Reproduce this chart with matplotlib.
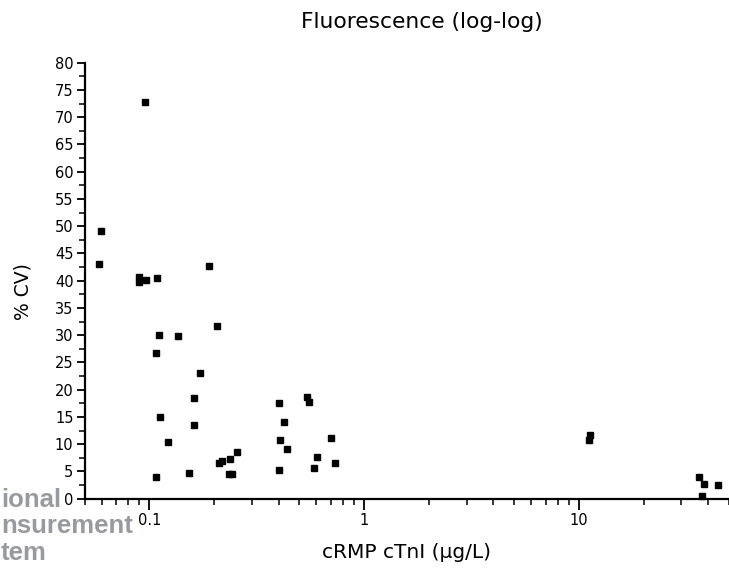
import numpy as np
import matplotlib.pyplot as plt
from matplotlib.ticker import LogLocator, MultipleLocator, FixedLocator, FixedFormatter, NullFormatter

#Donnees
conc=[0.0952,0.0598,0.0582,0.0895,0.0895,0.0966,0.1086,0.190,
      0.111,0.1355,0.206,0.1074,0.173,0.1614,0.1125,0.161,0.122,0.1074,
      0.153,0.212,0.217,0.237,0.235,0.243,0.255,0.400,0.408,0.426,0.436,
      0.400,0.541,0.557,0.601,0.583,0.705,0.731,
      11.3,11.2,36.2,38.3,37.5,44.5]
cv=[72.7,49.1,43.1,40.7,39.8,40.1,40.5,42.7,
    30.0,29.8,31.7,26.7,23.0,18.4,14.9,13.5,10.4,4.0,
    4.7,6.6,7.0,7.3,4.5,4.6,8.5,17.6,10.8,14.0,9.2,
    5.3,18.7,17.8,7.65,5.6,11.2,6.55,
    11.6,10.8,3.9,2.7,0.55,2.45]
xticks_pos=[0.1,1,10]
xticks_lab=['0.1','1','10']
# morceaux visibles du filigrane
watermark=['ional','nsurement','tem']

plt.rcParams['font.family']='DejaVu Sans'

fig=plt.figure(figsize=(7.29,5.70),dpi=100)

#Filigrane en bas a gauche
for txt,yb in zip(watermark,[63.3,37,10]):
    fig.text(1/729,yb/570,txt,fontsize=18.5,fontweight='bold',color='#979b9f',
             family='Liberation Sans',ha='left',va='baseline',zorder=0)

ax=fig.add_axes([84.6/729,71.3/570,1-84.6/729,436/570])
ax.patch.set_alpha(0)
ax.plot(conc,cv,'s',color='black',markersize=5,clip_on=False,zorder=3)

ax.set_xscale('log')
ax.set_xlim(0.05,50)
ax.set_ylim(0,80)

ax.xaxis.set_major_locator(FixedLocator(xticks_pos))
ax.xaxis.set_major_formatter(FixedFormatter(xticks_lab))
ax.xaxis.set_minor_locator(LogLocator(base=10,subs=np.arange(2,10)))
ax.xaxis.set_minor_formatter(NullFormatter())
ax.yaxis.set_major_locator(MultipleLocator(5))
ax.yaxis.set_minor_locator(MultipleLocator(2.5))

for s in ['top','right']:
    ax.spines[s].set_visible(False)
for s in ['left','bottom']:
    ax.spines[s].set_linewidth(1.6)

ax.tick_params(which='major',direction='out',length=6,width=1.3,labelsize=10.5,pad=2)
ax.tick_params(which='minor',direction='out',length=4,width=1.1)
ax.tick_params(axis='x',which='major',length=8)

fig.text(421.7/729,1-22/570,'Fluorescence (log-log)',fontsize=15.7,ha='center',va='center')
fig.text(406/729,1-553/570,'cRMP cTnI (\u03bcg/L)',fontsize=14.5,ha='center',va='center')
fig.text(23/729,1-292/570,'% CV)',fontsize=13.5,ha='center',va='center',rotation=90)

fig.savefig('out.png',dpi=100)
